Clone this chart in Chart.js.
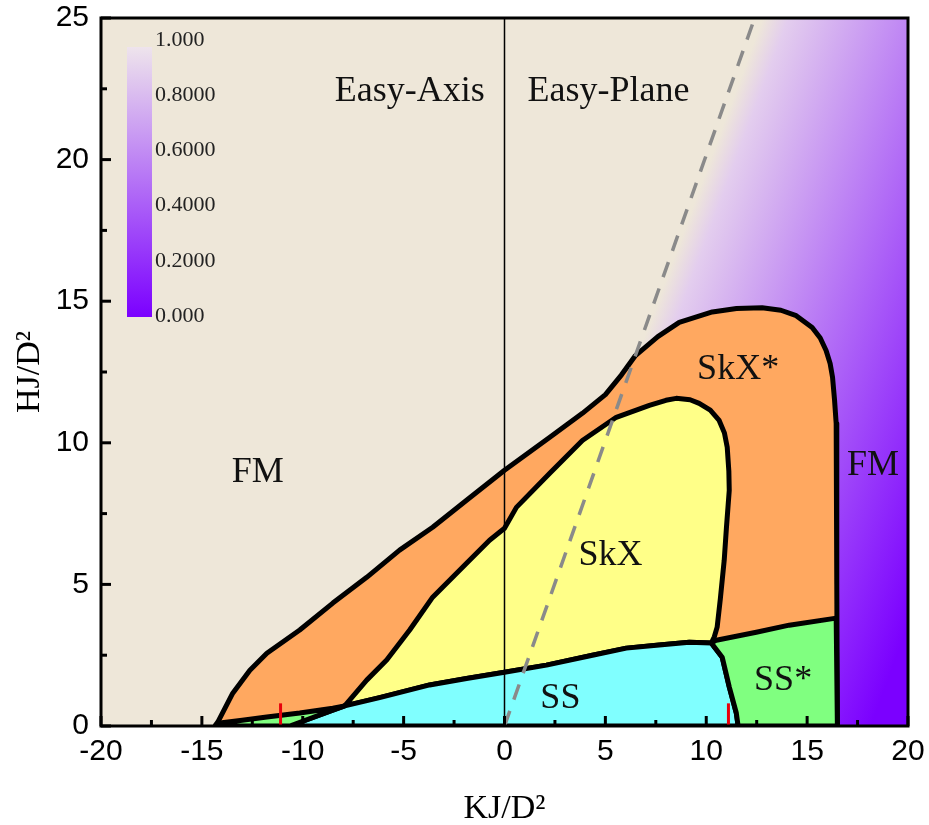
<!DOCTYPE html>
<html>
<head>
<meta charset="utf-8">
<script src="https://cdn.jsdelivr.net/npm/chart.js@4.4.1/dist/chart.umd.min.js"></script>
<style>
  html, body { margin: 0; padding: 0; background: #fff; }
  #wrap { width: 929px; height: 825px; position: relative; }
</style>
</head>
<body>
<div id="wrap"><canvas id="phase"></canvas></div>
<script>
// axes
const xMin = -20, xMax = 20, yMin = 0, yMax = 25;
const xTicks = [-20, -15, -10, -5, 0, 5, 10, 15, 20];
const yTicks = [0, 5, 10, 15, 20, 25];
const xMinorTicks = [-17.5, -12.5, -7.5, -2.5, 2.5, 7.5, 12.5, 17.5];
const yMinorTicks = [2.5, 7.5, 12.5, 17.5, 22.5];

// colour bar
const cbarValues = [1, 0.8, 0.6, 0.4, 0.2, 0];
const cbarLabels = ['1.000', '0.8000', '0.6000', '0.4000', '0.2000', '0.000'];

// phase boundaries [KJ/D², HJ/D²]
const skxStarRegion = [
  [-14.36, 0], [-14.21, 0.14], [-13.47, 1.16], [-12.62, 1.97], [-11.78, 2.57],
  [-10.15, 3.39], [-8.51, 4.34], [-6.83, 5.25], [-5.2, 6.21], [-3.56, 7.02],
  [-1.88, 7.97], [0, 9.03], [2.23, 10.19], [3.86, 11.04], [5.0, 11.7],
  [5.8, 12.4], [6.49, 13.08], [7.6, 13.75], [8.66, 14.25], [10.3, 14.62],
  [11.5, 14.74], [12.77, 14.77], [13.7, 14.68], [14.46, 14.49], [15.25, 14.07],
  [15.65, 13.7], [15.94, 13.26], [16.14, 12.8], [16.26, 12.31], [16.36, 11.5],
  [16.44, 10.68], [16.47, 5], [16.5, 0], [-14.36, 0]
];
const skxRegion = [
  [-7.92, 0.71], [-6.83, 1.62], [-5.84, 2.33], [-4.7, 3.39], [-3.56, 4.55],
  [-1.88, 5.75], [-0.74, 6.56], [0, 6.98], [0.59, 7.72], [2.23, 8.92],
  [3.86, 10.08], [5.54, 10.9], [7.18, 11.32], [8.0, 11.5], [8.51, 11.57],
  [9.2, 11.52], [9.65, 11.39], [10.2, 11.15], [10.64, 10.79], [10.9, 10.35],
  [11.04, 9.84], [11.12, 9.0], [11.14, 8.32], [11.0, 7.0], [10.89, 5.85],
  [10.7, 4.5], [10.54, 3.49], [10.4, 3.15], [10.25, 2.93], [9.16, 2.96],
  [7.67, 2.86], [6.04, 2.75], [4.36, 2.5], [2.08, 2.15], [0, 1.9],
  [-1.88, 1.68], [-3.71, 1.45], [-6.19, 1.0], [-7.92, 0.71]
];
const ssRegion = [
  [-10.64, 0], [-9.6, 0.28], [-8.51, 0.56], [-7.92, 0.71], [-6.19, 1.0],
  [-3.71, 1.45], [-1.88, 1.68], [0, 1.9], [2.08, 2.15], [4.36, 2.5],
  [6.04, 2.75], [7.67, 2.86], [9.16, 2.96], [10.25, 2.93], [10.79, 2.43],
  [11.14, 1.38], [11.49, 0.46], [11.58, 0], [-10.64, 0]
];
const ssStarRegion = [
  [10.25, 2.93], [10.5, 3.03], [12.48, 3.31], [14.11, 3.56], [16.44, 3.81],
  [16.5, 0], [11.58, 0], [11.49, 0.46], [11.14, 1.38], [10.79, 2.43], [10.25, 2.93]
];
const ssStarSliver = [
  [-14.21, 0.1], [-13.0, 0.2], [-11.78, 0.32], [-10.15, 0.46], [-8.51, 0.63],
  [-7.92, 0.71], [-8.51, 0.56], [-10.64, 0], [-14.3, 0], [-14.21, 0.1]
];
const anisotropyLine = [[0, 0], [12.4, 25]];
const axisSplitLine = [[0, 0], [0, 25]];
const markLeft = [[-11.1, 0], [-11.1, 0.8]];
const markRight = [[11.1, 0], [11.1, 0.8]];

const regionLabels = [
  { text: 'Easy-Axis', x: -4.7, y: 22.07 },
  { text: 'Easy-Plane', x: 5.15, y: 22.07 },
  { text: 'FM', x: -12.23, y: 8.6 },
  { text: 'FM', x: 18.27, y: 8.85 },
  { text: 'SkX*', x: 11.58, y: 12.24 },
  { text: 'SkX', x: 5.25, y: 5.68 },
  { text: 'SS', x: 2.77, y: 0.63 },
  { text: 'SS*', x: 13.81, y: 1.27 }
];

const pts = arr => arr.map(p => ({ x: p[0], y: p[1] }));

function cmap(v) {
  // 0 -> violet, 1 -> pale lilac
  const a = [123, 0, 255], b = [238, 228, 236];
  const c = a.map((ai, i) => Math.round(ai + (b[i] - ai) * v));
  return `rgb(${c[0]},${c[1]},${c[2]})`;
}

function heatFill(context) {
  const chart = context.chart;
  if (!chart.chartArea) return '#EEE7D9';
  const sx = chart.scales.x, sy = chart.scales.y;
  const x0 = sx.getPixelForValue(12.8), y0 = sy.getPixelForValue(25);
  const g = chart.ctx.createLinearGradient(x0, y0, x0 + 326, y0 + 121);
  g.addColorStop(0, '#EEE7D9');
  g.addColorStop(0.07, cmap(0.9));
  g.addColorStop(1, cmap(0));
  return g;
}

function region(data, color, order) {
  return {
    data: pts(data), showLine: true, fill: 'shape', backgroundColor: color,
    borderColor: '#000', borderWidth: 5, pointRadius: 0, tension: 0,
    borderJoinStyle: 'round', order: order
  };
}

const decor = {
  id: 'decor',
  afterDatasetsDraw(chart) {
    const { ctx, chartArea: a, scales: { x, y } } = chart;
    ctx.save();
    // colour bar
    const bx = a.left + 26, by = a.top + 29, bw = 25, bh = 270;
    const g = ctx.createLinearGradient(0, by, 0, by + bh);
    g.addColorStop(0, cmap(1));
    g.addColorStop(1, cmap(0));
    ctx.fillStyle = g;
    ctx.fillRect(bx, by, bw, bh);
    ctx.font = '22px "Liberation Serif"';
    ctx.fillStyle = '#222';
    ctx.textAlign = 'left';
    ctx.textBaseline = 'middle';
    cbarValues.forEach((v, i) => {
      ctx.fillText(cbarLabels[i], bx + bw + 3, a.top + 22 + (1 - v) * 276);
    });
    // region names
    ctx.font = '36px "Liberation Serif"';
    ctx.fillStyle = '#111';
    ctx.textAlign = 'center';
    ctx.textBaseline = 'alphabetic';
    regionLabels.forEach(l => ctx.fillText(l.text, x.getPixelForValue(l.x), y.getPixelForValue(l.y)));
    // inward ticks
    ctx.strokeStyle = '#000';
    ctx.lineWidth = 3;
    const seg = (x1, y1, x2, y2) => { ctx.beginPath(); ctx.moveTo(x1, y1); ctx.lineTo(x2, y2); ctx.stroke(); };
    xTicks.forEach(v => { const p = x.getPixelForValue(v); seg(p, a.bottom, p, a.bottom - 10); });
    xMinorTicks.forEach(v => { const p = x.getPixelForValue(v); seg(p, a.bottom, p, a.bottom - 6); });
    yTicks.forEach(v => { const p = y.getPixelForValue(v); seg(a.left, p, a.left + 10, p); });
    yMinorTicks.forEach(v => { const p = y.getPixelForValue(v); seg(a.left, p, a.left + 6, p); });
    // frame
    ctx.strokeRect(a.left, a.top, a.right - a.left, a.bottom - a.top);
    ctx.restore();
  }
};

new Chart(document.getElementById('phase'), {
  type: 'scatter',
  data: {
    datasets: [
      { data: pts(markLeft), showLine: true, borderColor: '#E8000B', borderWidth: 3, pointRadius: 0, order: 1 },
      { data: pts(markRight), showLine: true, borderColor: '#E8000B', borderWidth: 3, pointRadius: 0, order: 1 },
      { data: pts(anisotropyLine), showLine: true, borderColor: '#8A8A8A', borderWidth: 3.5,
        borderDash: [16, 12], pointRadius: 0, order: 2 },
      { data: pts(axisSplitLine), showLine: true, borderColor: '#000', borderWidth: 1.5, pointRadius: 0, order: 3 },
      region(ssStarSliver, '#80FF80', 4),
      region(ssStarRegion, '#80FF80', 5),
      region(ssRegion, '#80FFFF', 6),
      region(skxRegion, '#FFFF88', 7),
      region(skxStarRegion, '#FFA860', 8),
      { data: pts([[xMin, yMin], [xMax, yMin], [xMax, yMax], [xMin, yMax], [xMin, yMin]]),
        showLine: true, fill: 'shape', backgroundColor: heatFill, borderWidth: 0,
        pointRadius: 0, order: 9 }
    ]
  },
  options: {
    responsive: true,
    maintainAspectRatio: false,
    animation: false,
    layout: { padding: 0 },
    plugins: { legend: { display: false }, tooltip: { enabled: false } },
    scales: {
      x: {
        type: 'linear', min: xMin, max: xMax,
        afterBuildTicks: s => { s.ticks = xTicks.map(v => ({ value: v })); },
        afterFit: s => { s.height = 99; s.paddingRight = 21; s.paddingLeft = 20; },
        grid: { display: false, drawTicks: false },
        border: { display: false },
        ticks: { autoSkip: false, maxRotation: 0, padding: 8, color: '#000',
          font: { family: '"Liberation Sans"', size: 30 }, callback: v => String(v) },
        title: { display: true, text: 'KJ/D²', color: '#000', padding: { top: 0, bottom: -4 },
          font: { family: '"Liberation Serif"', size: 34 } }
      },
      y: {
        type: 'linear', min: yMin, max: yMax,
        afterBuildTicks: s => { s.ticks = yTicks.map(v => ({ value: v })); },
        afterFit: s => { s.width = 101; s.paddingTop = 18; s.paddingBottom = 18; },
        grid: { display: false, drawTicks: false },
        border: { display: false },
        ticks: { autoSkip: false, padding: 12, color: '#000',
          font: { family: '"Liberation Sans"', size: 30 }, callback: v => String(v) },
        title: { display: true, text: 'HJ/D²', color: '#000', padding: { top: 10, bottom: 0 },
          font: { family: '"Liberation Serif"', size: 34 } }
      }
    }
  },
  plugins: [decor]
});
</script>
</body>
</html>
